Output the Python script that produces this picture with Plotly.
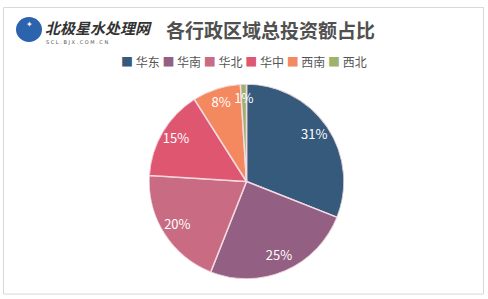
import plotly.graph_objects as go

categories = ["华东", "华南", "华北", "华中", "西南", "西北"]
shares = [31, 25, 20, 15, 8, 1]
colors = ["#365a7c", "#935f82", "#c96b83", "#df5670", "#f4895f", "#9db36b"]
title_text = "各行政区域总投资额占比"

W, H = 488, 299
FONT = "Noto Sans CJK SC"

def px_x(x):
    return x / W

def px_y(y):
    return 1 - y / H

pie_domain = dict(x=[px_x(148), px_x(345)], y=[px_y(279), px_y(84)])

total = sum(shares)
mid_angles = []
widths = []
acc = 0
for v in shares:
    mid_angles.append((acc + v / 2) / total * 360)
    widths.append(v / total * 360)
    acc += v
label_texts = [f"{round(v / total * 100)}%" for v in shares]

fig = go.Figure()
# pie slices drawn as full-radius polar bars
fig.add_trace(go.Barpolar(
    r=[1] * len(shares),
    theta=mid_angles,
    width=widths,
    marker=dict(color=colors, line=dict(color="#f3d9e0", width=1.5)),
    customdata=categories,
    hovertemplate="%{customdata}: %{text}<extra></extra>",
    text=label_texts,
    showlegend=False,
))
# percentage labels
fig.add_trace(go.Scatterpolar(
    r=[0.84] * len(shares),
    theta=mid_angles,
    mode="text",
    text=label_texts,
    textfont=dict(family=FONT, size=13, color="white"),
    showlegend=False,
    hoverinfo="skip",
))

legend_html = " ".join(
    f"<span style='color:{c}'>■</span> {lab}" for lab, c in zip(categories, colors)
)

annotations = [
    dict(text="<b>" + title_text + "</b>", x=px_x(270), y=px_y(29), xref="paper", yref="paper",
         showarrow=False, font=dict(family=FONT, size=19, color="#505050"),
         xanchor="center", yanchor="middle"),
    dict(text="<b><i>北极星水处理网</i></b>", x=px_x(43), y=px_y(27.5), xref="paper", yref="paper",
         showarrow=False, font=dict(family=FONT, size=15, color="#333333"),
         xanchor="left", yanchor="middle"),
    dict(text="S C L . B J X . C O M . C N", x=px_x(44), y=px_y(41.5), xref="paper", yref="paper",
         showarrow=False, font=dict(family="DejaVu Sans", size=5, color="#555555"),
         xanchor="left", yanchor="middle"),
    dict(text="✦", x=px_x(29), y=px_y(25), xref="paper", yref="paper",
         showarrow=False, font=dict(family="DejaVu Sans", size=8, color="white"),
         xanchor="center", yanchor="middle"),
    dict(text=legend_html, x=px_x(244), y=px_y(62), xref="paper", yref="paper",
         showarrow=False, font=dict(family=FONT, size=12, color="#555555"),
         xanchor="center", yanchor="middle"),
]

shapes = [
    dict(type="rect", xref="paper", yref="paper", x0=px_x(3.5), x1=px_x(483.5),
         y0=px_y(294), y1=px_y(7.5), line=dict(color="#d8d8d8", width=1), layer="below"),
    dict(type="circle", xref="paper", yref="paper", x0=px_x(16), x1=px_x(42),
         y0=px_y(42), y1=px_y(17), fillcolor="#2c63ad", line=dict(width=0)),
]

fig.update_layout(
    width=W, height=H,
    margin=dict(l=0, r=0, t=0, b=0),
    paper_bgcolor="white",
    plot_bgcolor="white",
    annotations=annotations,
    shapes=shapes,
    polar=dict(
        domain=pie_domain,
        bgcolor="rgba(0,0,0,0)",
        bargap=0,
        radialaxis=dict(range=[0, 1], visible=False, showgrid=False),
        angularaxis=dict(rotation=90, direction="clockwise", visible=False, showgrid=False),
    ),
)

fig.write_html("out.html")
